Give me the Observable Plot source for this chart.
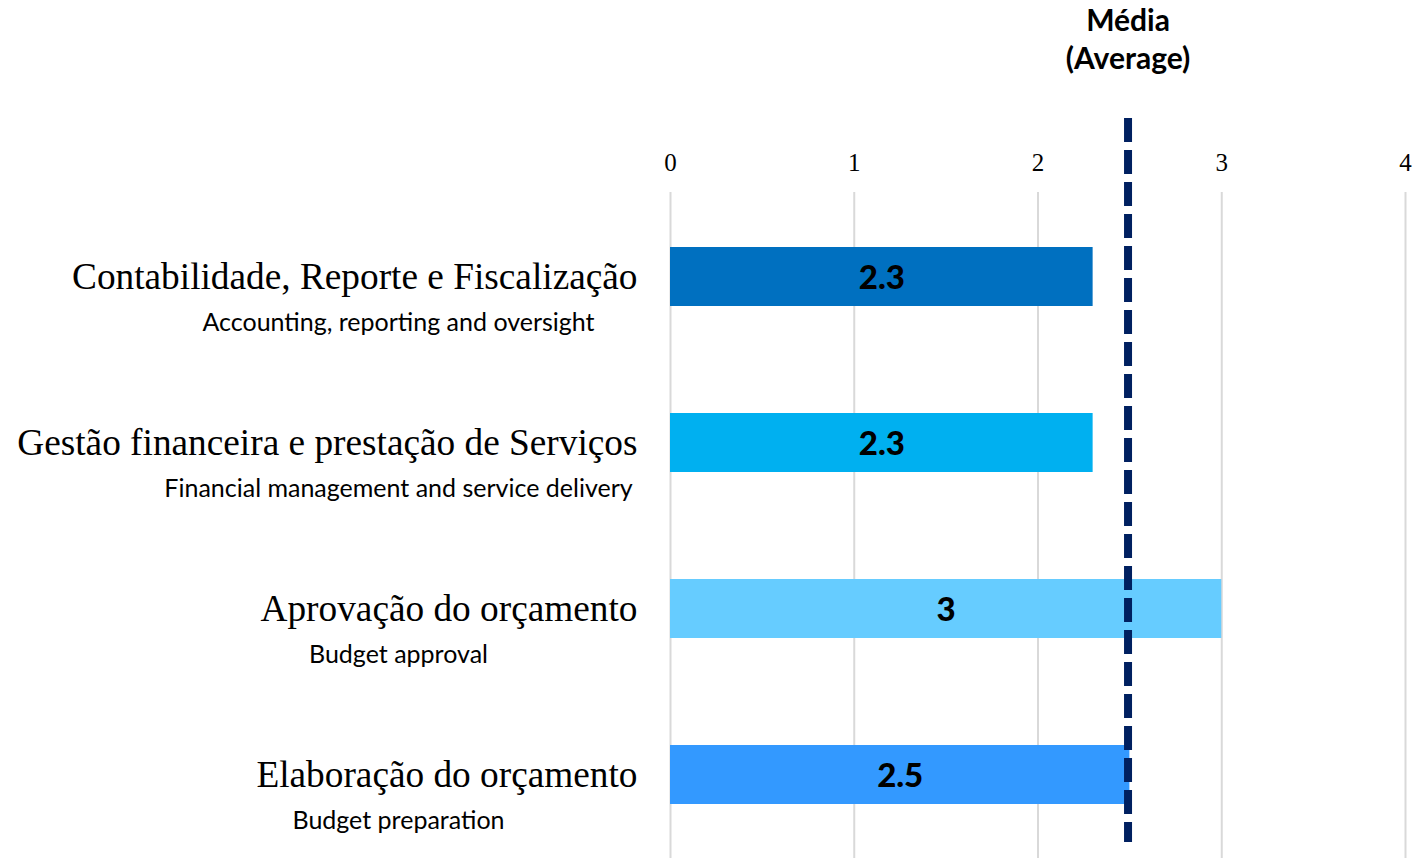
<!DOCTYPE html>
<html>
<head>
<meta charset="utf-8">
<script src="https://cdn.jsdelivr.net/npm/d3@7"></script>
<script src="https://cdn.jsdelivr.net/npm/@observablehq/plot@0.6"></script>
<style>
  html, body { margin: 0; padding: 0; background: #fff; }
  #chart svg { display: block; }
</style>
</head>
<body>
<div id="chart"></div>
<script>
const categories = [
  "Contabilidade, Reporte e Fiscalização",
  "Gestão financeira e prestação de Serviços",
  "Aprovação do orçamento",
  "Elaboração do orçamento"
];
const subLabels = [
  "Accounting, reporting and oversight",
  "Financial management and service delivery",
  "Budget approval",
  "Budget preparation"
];
const values = [2.3, 2.3, 3, 2.5];
const colors = ["#0070C0", "#00B0F0", "#66CCFF", "#3399FF"];
const average = 2.49;
const averageLabel = "Média\n(Average)";
const xTicks = [0, 1, 2, 3, 4];

const data = categories.map((c, i) => ({category: c, sub: subLabels[i], value: values[i]}));

const sans = "Lato, 'Open Sans', sans-serif";
const serif = "'Liberation Serif', 'Times New Roman', serif";

const chart = Plot.plot({
  width: 1422,
  height: 858,
  marginLeft: 670,
  marginRight: 17,
  marginTop: 192,
  marginBottom: 0,
  style: {fontFamily: serif, fontSize: "24px", color: "#000", background: "#fff"},
  x: {domain: [0, 4], label: null, axis: null},
  y: {domain: categories, paddingInner: 0.645, paddingOuter: 0.3225, axis: null},
  color: {domain: categories, range: colors},
  marks: [
    Plot.ruleX(xTicks, {stroke: "#d9d9d9", strokeWidth: 2}),
    Plot.text(xTicks, {x: d => d, text: d => String(d), frameAnchor: "top", lineAnchor: "bottom", dy: -22, fontSize: 25, fontFamily: serif, fill: "#000"}),
    Plot.barX(data, {x: "value", y: "category", fill: "category"}),
    Plot.text(data, {x: d => d.value / 2, y: "category", text: d => String(d.value), fontWeight: 900, fontSize: 33, fontFamily: sans, fill: "#000", dy: 1}),
    Plot.ruleX([average], {x: d => d, stroke: "#002060", strokeWidth: 8, strokeDasharray: "24 8", insetTop: -74, insetBottom: 16}),
    Plot.text([average], {x: d => d, text: () => averageLabel, frameAnchor: "top", lineAnchor: "top", dy: -189, fontWeight: "bold", fontSize: 30, lineHeight: 1.27, fontFamily: sans, fill: "#000"}),
    Plot.text(data, {y: "category", text: "category", frameAnchor: "left", textAnchor: "end", dx: -33, fontSize: 37.3, fontFamily: serif, fill: "#000"}),
    Plot.text(data, {y: "category", text: "sub", frameAnchor: "left", textAnchor: "middle", dx: -272, dy: 46, fontSize: 25, fontFamily: sans, fill: "#000"})
  ]
});
document.getElementById("chart").appendChild(chart);
</script>
</body>
</html>
